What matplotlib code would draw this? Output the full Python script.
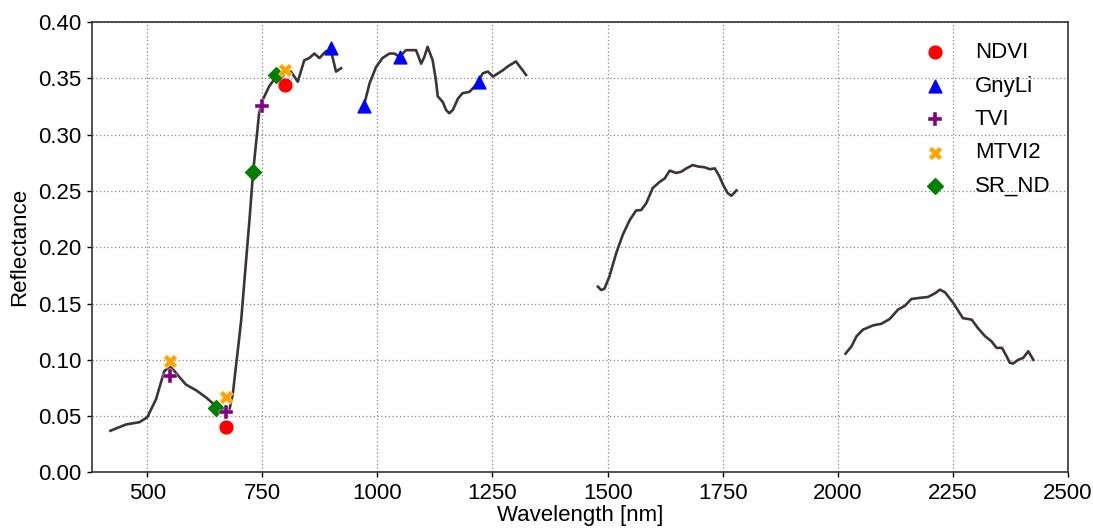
import matplotlib
matplotlib.use("Agg")
import numpy as np
import matplotlib.pyplot as plt

# -----------------------------------------------------
# spectrum (gaps = water absorption bands removed)
# -----------------------------------------------------

wl_vis = [420, 454, 483, 500, 519, 537, 551, 565, 584, 606, 628, 646, 663, 678,
          686, 692, 698, 704, 712, 722, 730, 743, 751, 765, 780, 794, 812, 827,
          841, 852, 863, 874, 888, 899, 910, 921]
refl_vis = [0.037, 0.0426, 0.0446, 0.049, 0.065, 0.090, 0.094, 0.087, 0.078, 0.073,
            0.0665, 0.060, 0.054, 0.055, 0.070, 0.092, 0.113, 0.135, 0.175, 0.224,
            0.267, 0.319, 0.331, 0.343, 0.3515, 0.355, 0.356, 0.347, 0.366, 0.368,
            0.372, 0.368, 0.374, 0.375, 0.356, 0.359]

wl_nir = [972, 983, 997, 1011, 1026, 1037, 1048, 1062, 1084, 1095, 1102, 1109, 1120,
          1127, 1131, 1142, 1149, 1156, 1164, 1175, 1185, 1200, 1214, 1229, 1240,
          1251, 1272, 1283, 1301, 1323]
refl_nir = [0.328, 0.3456, 0.360, 0.368, 0.372, 0.372, 0.369, 0.375, 0.375, 0.363,
            0.369, 0.378, 0.366, 0.3486, 0.334, 0.329, 0.322, 0.319, 0.322, 0.332,
            0.3368, 0.338, 0.344, 0.3545, 0.356, 0.3515, 0.357, 0.3605, 0.365, 0.353]

wl_swir1 = [1479, 1486, 1493, 1504, 1519, 1533, 1548, 1562, 1573, 1584, 1598, 1613,
            1624, 1635, 1649, 1660, 1671, 1685, 1696, 1711, 1722, 1733, 1743, 1751,
            1761, 1769, 1780]
refl_swir1 = [0.165, 0.162, 0.163, 0.174, 0.195, 0.211, 0.224, 0.2326, 0.233, 0.239,
              0.2525, 0.258, 0.261, 0.268, 0.266, 0.267, 0.270, 0.273, 0.2717, 0.271,
              0.2693, 0.270, 0.263, 0.2554, 0.248, 0.2457, 0.2504]

wl_swir2 = [2017, 2030, 2041, 2055, 2077, 2095, 2113, 2131, 2146, 2160, 2178, 2196,
            2211, 2222, 2233, 2251, 2272, 2291, 2305, 2320, 2334, 2345, 2357, 2367,
            2374, 2381, 2392, 2403, 2414, 2425]
refl_swir2 = [0.1055, 0.112, 0.121, 0.1268, 0.1306, 0.132, 0.1363, 0.1446, 0.148,
              0.154, 0.155, 0.1558, 0.159, 0.1623, 0.160, 0.1505, 0.137, 0.1357,
              0.128, 0.121, 0.1165, 0.1106, 0.1106, 0.103, 0.0973, 0.0967, 0.100,
              0.1017, 0.1076, 0.100]

# -----------------------------------------------------
# bands used by each index
# -----------------------------------------------------

ndvi_wl = [670, 800]
ndvi_r = [0.040, 0.344]

gnyli_wl = [900, 970, 1050, 1220]
gnyli_r = [0.377, 0.3255, 0.369, 0.3465]

tvi_wl = [550, 670, 750]
tvi_r = [0.086, 0.054, 0.3255]

mtvi2_wl = [550, 670, 800]
mtvi2_r = [0.099, 0.067, 0.357]

srnd_wl = [650, 730, 780]
srnd_r = [0.057, 0.267, 0.353]

# -----------------------------------------------------
# plot
# -----------------------------------------------------

plt.rcParams["font.family"] = ["Liberation Sans", "DejaVu Sans"]
plt.rcParams["font.size"] = 16

fig = plt.figure(figsize=(10.93, 5.32), dpi=100)
ax = fig.add_axes([0.0842, 0.112, 0.8928, 0.8466])

line_col = "#3d3535"
for wl, r in [(wl_vis, refl_vis), (wl_nir, refl_nir),
              (wl_swir1, refl_swir1), (wl_swir2, refl_swir2)]:
    ax.plot(wl, r, color=line_col, lw=1.9, zorder=2)

ax.scatter(ndvi_wl, ndvi_r, marker="o", color="red", s=85, label="NDVI", zorder=3)
ax.scatter(gnyli_wl, gnyli_r, marker="^", color="blue", s=85, label="GnyLi", zorder=3)
ax.scatter(srnd_wl, srnd_r, marker="D", color="green", s=65, label="SR_ND", zorder=3)
ax.scatter(tvi_wl, tvi_r, marker="P", color="purple", s=100, label="TVI",
           edgecolors="white", linewidths=0.3, zorder=4)
ax.scatter(mtvi2_wl, mtvi2_r, marker="X", color="orange", s=100, label="MTVI2",
           edgecolors="white", linewidths=0.3, zorder=4)

ax.set_xlim(380, 2500)
ax.set_ylim(0, 0.40)
ax.set_xticks(np.arange(500, 2501, 250))
ax.set_yticks(np.arange(0, 0.401, 0.05))
ax.set_yticklabels([f"{v:.2f}" for v in np.arange(0, 0.401, 0.05)])
ax.tick_params(direction="out", length=3.5, width=1, pad=4)
ax.grid(True, linestyle=(0, (1, 2)), color="#888888", lw=0.9)

for s in ax.spines.values():
    s.set_linewidth(1.2)
    s.set_color("#333333")

ax.set_xlabel("Wavelength [nm]", labelpad=1)
ax.set_ylabel("Reflectance", labelpad=6)

h, l = ax.get_legend_handles_labels()
order = ["NDVI", "GnyLi", "TVI", "MTVI2", "SR_ND"]
h = [h[l.index(k)] for k in order]
ax.legend(h, order, loc="upper right", frameon=False,
          handletextpad=0.8, labelspacing=0.56, borderaxespad=0.3,
          bbox_to_anchor=(0.998, 0.99))

fig.savefig("out.png", dpi=100)
